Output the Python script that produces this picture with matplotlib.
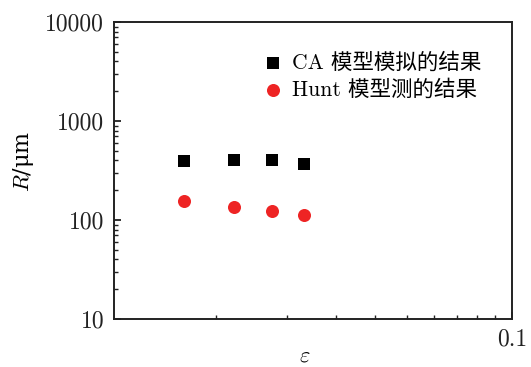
import numpy as np
import matplotlib
matplotlib.use("Agg")
import matplotlib.pyplot as plt
from matplotlib.ticker import FixedLocator, NullFormatter

# strain values (x) and grain size R in um (y)
eps_ca = [0.0066, 0.0122, 0.0176, 0.0231]
r_ca = [394, 400, 404, 368]
eps_hunt = [0.0066, 0.0122, 0.0176, 0.0231]
r_hunt = [156, 135, 123, 112]

labels = ["CA 模型模拟的结果", "Hunt 模型测的结果"]

plt.rcParams["font.family"] = ["cmr10", "Noto Sans CJK SC", "DejaVu Serif"]
plt.rcParams["mathtext.fontset"] = "cm"
plt.rcParams["axes.formatter.use_mathtext"] = True

OFF = 0.01


def fwd(x):
    return np.log10(np.asarray(x) + OFF)


def inv(y):
    return 10 ** np.asarray(y) - OFF


fig = plt.figure(figsize=(5.31, 3.67), dpi=100)
ax = fig.add_axes([114 / 531, 1 - 319 / 367, 398 / 531, 297 / 367])

ax.scatter(eps_ca, r_ca, marker="s", s=72, color="black", linewidths=0,
           label=labels[0], zorder=3)
ax.scatter(eps_hunt, r_hunt, marker="o", s=88, color="#ee2424", linewidths=0,
           label=labels[1], zorder=3)

ax.set_xscale("function", functions=(fwd, inv))
ax.set_yscale("log")
ax.set_xlim(0.0011, 0.1)
ax.set_ylim(10, 10000)

ax.xaxis.set_major_locator(FixedLocator([0.1]))
ax.xaxis.set_minor_locator(FixedLocator([0.01 * k for k in range(1, 10)]))
ax.xaxis.set_minor_formatter(NullFormatter())
ax.set_xticklabels(["0.1"])
ax.set_yticks([10, 100, 1000, 10000])
ax.set_yticklabels(["10", "100", "1000", "10000"])

for s in ax.spines.values():
    s.set_linewidth(1.4)
    s.set_color("#222222")

ax.tick_params(which="both", direction="in", top=False, right=False,
               labelsize=17, colors="#222222")
ax.tick_params(which="major", length=5, width=1.3, pad=7)
ax.tick_params(which="minor", length=3, width=1.0)

ax.set_ylabel(r"$R$/μm", fontsize=16, family=["DejaVu Serif"])
ax.yaxis.set_label_coords(-0.195, 0.53)
ax.set_xlabel(r"$\varepsilon$", fontsize=16)
ax.xaxis.set_label_coords(0.479, -0.09)

ax.legend(loc="upper left", bbox_to_anchor=(0.372, 0.90), frameon=False,
          fontsize=15.5, handlelength=1.0, handletextpad=0.4, labelspacing=0.3,
          borderpad=0, borderaxespad=0, scatterpoints=1)

fig.savefig("out.png", dpi=100)
